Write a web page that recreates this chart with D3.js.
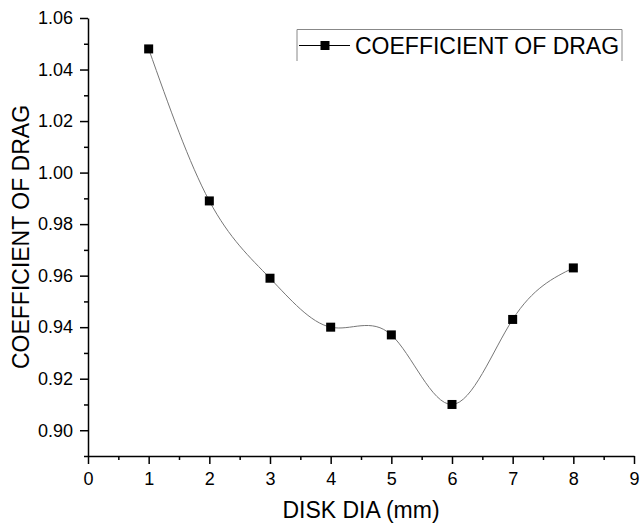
<!DOCTYPE html>
<html>
<head>
<meta charset="utf-8">
<title>Coefficient of drag</title>
<style>
body { margin: 0; background: #fff; }
svg { display: block; font-family: "Liberation Sans", Arial, sans-serif; }
.axis .domain, .axis line { stroke: #000; stroke-width: 1.5; }
.axis text { fill: #000; font-size: 18px; font-family: "Liberation Sans", Arial, sans-serif; }
</style>
</head>
<body>
<svg></svg>
<script src="https://d3js.org/d3.v7.min.js"></script>
<script>
const diskDia = [1, 2, 3, 4, 5, 6, 7, 8];
const drag = [1.048, 0.989, 0.959, 0.940, 0.937, 0.910, 0.943, 0.963];
const xTicks = [0, 1, 2, 3, 4, 5, 6, 7, 8, 9];
const yTicks = [0.90, 0.92, 0.94, 0.96, 0.98, 1.00, 1.02, 1.04, 1.06];
const seriesName = 'COEFFICIENT OF DRAG';

const width = 640, height = 526;
const svg = d3.select('svg').attr('width', width).attr('height', height);

const x = d3.scaleLinear([0, 9], [88, 634]);
const y = d3.scaleLinear([0.89, 1.06], [456, 18]);

// minor ticks first so the major ticks sit on top
const xMinor = d3.range(0.5, 9, 1);
const yMinor = d3.range(0.89, 1.06, 0.02).map(v => +v.toFixed(2));

svg.append('g').attr('class', 'axis')
   .attr('transform', `translate(0,${y(0.89)})`)
   .call(d3.axisBottom(x).tickValues(xMinor).tickSize(4).tickFormat(''))
   .call(g => g.select('.domain').remove());
svg.append('g').attr('class', 'axis')
   .attr('transform', `translate(${x(0)},0)`)
   .call(d3.axisLeft(y).tickValues(yMinor).tickSize(4).tickFormat(''))
   .call(g => g.select('.domain').remove());

svg.append('g').attr('class', 'axis')
   .attr('transform', `translate(0,${y(0.89)})`)
   .call(d3.axisBottom(x).tickValues(xTicks).tickSize(8).tickSizeOuter(0).tickPadding(8).tickFormat(d3.format('d')));

svg.append('g').attr('class', 'axis')
   .attr('transform', `translate(${x(0)},0)`)
   .call(d3.axisLeft(y).tickValues(yTicks).tickSize(8).tickSizeOuter(0).tickPadding(7).tickFormat(d3.format('.2f')));

// axis titles
svg.append('text')
   .text('DISK DIA (mm)')
   .attr('x', (x(0) + x(9)) / 2).attr('y', 518)
   .attr('text-anchor', 'middle')
   .style('font-size', '23px');

svg.append('text')
   .text('COEFFICIENT OF DRAG')
   .attr('transform', `translate(29,${(y(0.89) + y(1.06)) / 2}) rotate(-90)`)
   .attr('text-anchor', 'middle')
   .style('font-size', '23px');

// curve + markers
const pts = diskDia.map((d, i) => [d, drag[i]]);
const line = d3.line().x(d => x(d[0])).y(d => y(d[1])).curve(d3.curveNatural);

svg.append('path')
   .attr('d', line(pts))
   .attr('fill', 'none')
   .attr('stroke', '#777')
   .attr('stroke-width', 1);

svg.append('g').selectAll('rect')
   .data(pts)
   .join('rect')
   .attr('x', d => x(d[0]) - 4.5)
   .attr('y', d => y(d[1]) - 4.5)
   .attr('width', 9).attr('height', 9)
   .attr('fill', '#000');

// legend (box open at the bottom, as in the original)
const lg = svg.append('g');
lg.append('path')
  .attr('d', 'M297,61 V29.5 H622 V61')
  .attr('fill', 'none')
  .attr('stroke', '#888')
  .attr('stroke-width', 1);
lg.append('line')
  .attr('x1', 299).attr('x2', 350).attr('y1', 45.5).attr('y2', 45.5)
  .attr('stroke', '#000').attr('stroke-width', 1);
lg.append('rect')
  .attr('x', 320.5).attr('y', 41).attr('width', 9).attr('height', 9)
  .attr('fill', '#000');
lg.append('text')
  .text(seriesName)
  .attr('x', 355).attr('y', 54)
  .style('font-size', '23px');
</script>
</body>
</html>
